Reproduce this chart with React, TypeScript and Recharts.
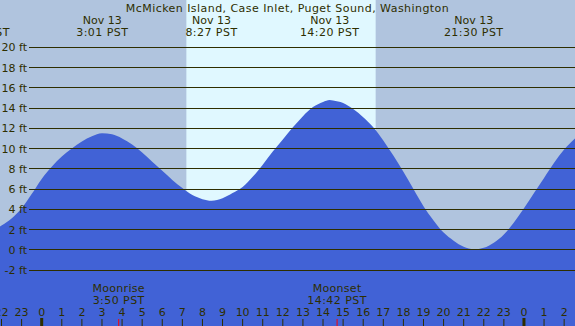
import React from 'react'
import { ComposedChart, Area, XAxis, YAxis, ReferenceLine, ReferenceArea } from 'recharts'

const W = 575
const H = 326
const NIGHT = '#b0c4de'
const DAY = '#e0f8ff'
const WATER = '#4162d6'
const INK = '#2e2e00'
const FONT = 'DejaVu Sans'

const title = 'McMicken Island, Case Inlet, Puget Sound, Washington'

// hours from midnight Nov 13 (negative = Nov 12, >24 = Nov 14)
const tideHours = [
    -2.075, -2, -1.5, -1, -0.5, 0, 0.5, 1, 1.5, 2, 2.5, 3, 3.5, 4, 4.5, 5, 5.5, 6, 6.5, 7, 7.5, 8, 8.45,
    9, 9.5, 10, 10.5, 11, 11.5, 12, 12.5, 13, 13.5, 14, 14.33, 14.5, 15, 15.5, 16, 16.5, 17, 17.5, 18,
    18.5, 19, 19.5, 20, 20.5, 21, 21.5, 22, 22.5, 23, 23.5, 24, 24.5, 25, 25.5, 26, 26.54,
]
const tideFeet = [
    2.3, 2.4, 3.1, 4.1, 5.5, 7.0, 8.2, 9.2, 10.0, 10.7, 11.2, 11.5, 11.4, 11.0, 10.4, 9.6, 8.7, 7.8, 6.9, 6.1, 5.4, 5.0, 4.85,
    5.1, 5.6, 6.2, 7.2, 8.4, 9.7, 10.9, 12.1, 13.2, 14.1, 14.6, 14.8, 14.75, 14.5, 13.9, 13.1, 12.1, 10.8, 9.3, 7.7,
    6.0, 4.3, 2.9, 1.7, 0.9, 0.3, 0.05, 0.2, 0.7, 1.5, 2.7, 4.1, 5.6, 7.1, 8.6, 9.9, 11.0,
]

const feetTicks = [-2, 0, 2, 4, 6, 8, 10, 12, 14, 16, 18, 20]
const hourTicks = [-2, -1, 0, 1, 2, 3, 4, 5, 6, 7, 8, 9, 10, 11, 12, 13, 14, 15, 16, 17, 18, 19, 20, 21, 22, 23, 24, 25, 26]
const hourLabels = ['22', '23', '0', '1', '2', '3', '4', '5', '6', '7', '8', '9', '10', '11', '12', '13', '14', '15', '16', '17', '18', '19', '20', '21', '22', '23', '0', '1', '2']

const eventHours = [-3.07, 3.017, 8.45, 14.333, 21.5]
const eventDates = ['Nov 12', 'Nov 13', 'Nov 13', 'Nov 13', 'Nov 13']
const eventTimes = ['20:50 PST', '3:01 PST', '8:27 PST', '14:20 PST', '21:30 PST']

const moonHours = [3.833, 14.7]
const moonNames = ['Moonrise', 'Moonset']
const moonTimes = ['3:50 PST', '14:42 PST']

const sunrise = 7.2
const sunset = 16.62

const data = tideHours.map((h, i) => ({ h, ft: tideFeet[i] }))

const txt = { fontFamily: FONT, fontSize: 11, fill: INK }

export default function App() {
    return (
        <div style={{ position: 'fixed', left: 0, top: 0 }}>
            <ComposedChart
                width={W}
                height={H}
                data={data}
                margin={{ top: 0, right: 0, bottom: 0, left: 0 }}
                style={{ background: NIGHT }}
            >
                <XAxis dataKey="h" type="number" domain={[-2.075, 26.54]} hide allowDataOverflow />
                <YAxis type="number" domain={[-7.53, 24.67]} hide allowDataOverflow />
                <ReferenceArea x1={sunrise} x2={sunset} fill={DAY} fillOpacity={1} stroke="none" ifOverflow="visible" />
                <Area
                    dataKey="ft"
                    type="monotone"
                    fill={WATER}
                    fillOpacity={1}
                    stroke="none"
                    baseValue="dataMin"
                    dot={false}
                    activeDot={false}
                    isAnimationActive={false}
                />
                {feetTicks.map((v) => (
                    <ReferenceLine
                        key={'g' + v}
                        segment={[{ x: -0.62, y: v }, { x: 26.54, y: v }]}
                        stroke={INK}
                        strokeWidth={1}
                        shapeRendering="crispEdges"
                        ifOverflow="visible"
                        label={(p: any) => (
                            <text x={27} y={p.viewBox.y + 4} textAnchor="end" {...txt}>{v} ft</text>
                        )}
                    />
                ))}
                {hourTicks.map((h, i) => (
                    <ReferenceLine
                        key={'h' + h}
                        x={h}
                        stroke="none"
                        ifOverflow="visible"
                        label={(p: any) => {
                            const midnight = hourLabels[i] === '0'
                            return (
                                <g>
                                    <text x={p.viewBox.x} y={316} textAnchor="middle" {...txt}>{hourLabels[i]}</text>
                                    <line
                                        x1={p.viewBox.x}
                                        x2={p.viewBox.x}
                                        y1={midnight ? 318 : 319}
                                        y2={H}
                                        stroke={INK}
                                        strokeWidth={midnight ? 3 : 1}
                                    />
                                </g>
                            )
                        }}
                    />
                ))}
                {eventHours.map((h, i) => (
                    <ReferenceLine
                        key={'e' + i}
                        x={h}
                        stroke="none"
                        ifOverflow="visible"
                        label={(p: any) => (
                            <g>
                                <text x={p.viewBox.x} y={24} textAnchor="middle" {...txt}>{eventDates[i]}</text>
                                <text x={p.viewBox.x} y={35.5} textAnchor="middle" letterSpacing={0.45} {...txt}>{eventTimes[i]}</text>
                            </g>
                        )}
                    />
                ))}
                {moonHours.map((h, i) => (
                    <ReferenceLine
                        key={'m' + i}
                        x={h}
                        stroke="none"
                        ifOverflow="visible"
                        label={(p: any) => (
                            <g>
                                <text x={p.viewBox.x} y={291.5} textAnchor="middle" letterSpacing={0.3} {...txt}>{moonNames[i]}</text>
                                <text x={p.viewBox.x} y={303.5} textAnchor="middle" letterSpacing={0.45} {...txt}>{moonTimes[i]}</text>
                                <line x1={p.viewBox.x} x2={p.viewBox.x} y1={319} y2={H} stroke="#ff0000" strokeWidth={1} />
                            </g>
                        )}
                    />
                ))}
                <ReferenceLine
                    x={12}
                    stroke="none"
                    ifOverflow="visible"
                    label={() => (
                        <text x={W / 2} y={11.5} textAnchor="middle" letterSpacing={0.45} {...txt}>{title}</text>
                    )}
                />
            </ComposedChart>
        </div>
    )
}
